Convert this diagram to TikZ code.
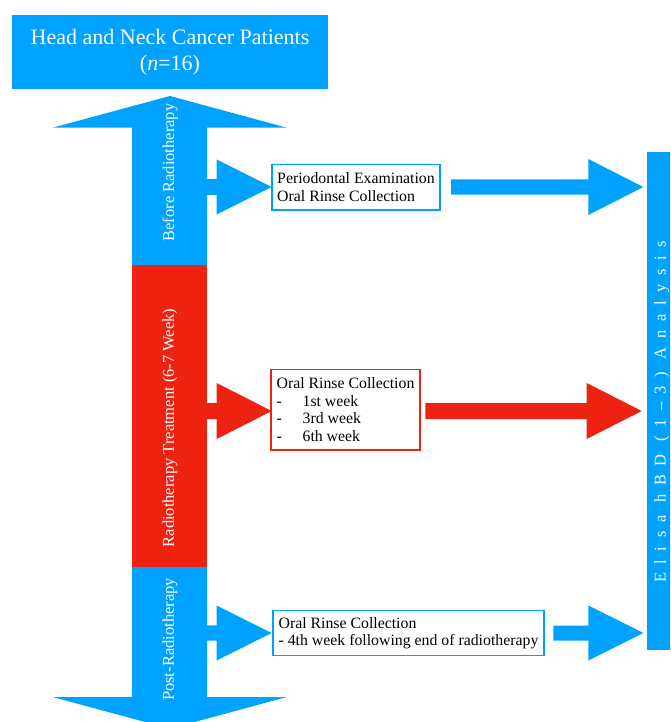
\documentclass[tikz,border=0pt]{standalone}
\usepackage{fontspec}
\setmainfont{Liberation Serif}
\definecolor{cblue}{RGB}{0,162,255}
\definecolor{cred}{RGB}{238,34,17}
\newcommand\harrow[7]{\fill[#1] (#2,#4-#5) -- (#3-#7,#4-#5) -- (#3-#7,#4-#6) -- (#3,#4) -- (#3-#7,#4+#6) -- (#3-#7,#4+#5) -- (#2,#4+#5) -- cycle;}
\begin{document}
\begin{tikzpicture}[x=1pt,y=-1pt,
  infobox/.style={draw=#1, line width=1.4pt, fill=white, inner sep=0pt, align=left,
    font=\fontsize{15.8}{17.6}\selectfont},
  vlabel/.style={rotate=90, text=white, inner sep=0pt, font=\fontsize{16.5}{18}\selectfont}]
\useasboundingbox (0,0) rectangle (670,722);
\clip (0,0) rectangle (670,722);
% title
\node[fill=cblue, text=white, minimum width=316, minimum height=74, inner sep=0pt, align=center,
  font=\fontsize{22}{26}\selectfont] (title) at (170,52) {Head and Neck Cancer Patients\\(\textit{n}=16)};
% vertical timeline arrow
\fill[cblue] (132,265) -- (132,127.7) -- (52.7,127.7) -- (170,96) -- (286.7,127.7) -- (207,127.7) -- (207,265) -- cycle;
\fill[cred] (132,265) rectangle (207,567);
\fill[cblue] (132,567) -- (132,697) -- (52.7,697) -- (170,728.7) -- (286.7,697) -- (207,697) -- (207,567) -- cycle;
\node[vlabel] (l1) at (170,172.5) {Before Radiotherapy};
\node[vlabel] (l2) at (170,428) {Radiotherapy Treatment (6-7 Week)};
\node[vlabel] (l3) at (170,639.5) {Post-Radiotherapy};
% analysis bar
\node[fill=cblue, minimum width=29, minimum height=498.3, inner sep=0pt] (bar) at (661.5,401) {};
\node[rotate=90, text=white, inner sep=0pt, font=\fontsize{16.5}{18}\selectfont\addfontfeature{LetterSpace=52}] (ana) at (661.7,412) {Elisa hBD (1–3) Analysis};
% side arrows
\harrow{cblue}{206}{271.7}{187}{7.8}{27.5}{55}
\harrow{cblue}{451}{643.3}{187}{7.5}{28}{55}
\harrow{cred}{206}{271.7}{411}{8}{28}{55}
\harrow{cred}{425.3}{641.7}{411}{8}{28}{55}
\harrow{cblue}{206}{271.7}{633}{7.7}{27.5}{55}
\harrow{cblue}{553.3}{643.3}{633}{7.5}{27.5}{55}
% boxes
\node[infobox=cblue, minimum width=168, minimum height=45.7] (b1) at (356,187.2)
  {Periodontal Examination\\Oral Rinse Collection};
\node[infobox=cred, minimum width=149, minimum height=80.7] (b2) at (345.5,409.7)
  {Oral Rinse Collection\\\makebox[26pt][l]{-}1st week\\\makebox[26pt][l]{-}3rd week\\\makebox[26pt][l]{-}6th week};
\node[infobox=cblue, minimum width=271, minimum height=45] (b3) at (408.5,633.2)
  {Oral Rinse Collection\\- 4th week following end of radiotherapy};
\end{tikzpicture}
\end{document}
